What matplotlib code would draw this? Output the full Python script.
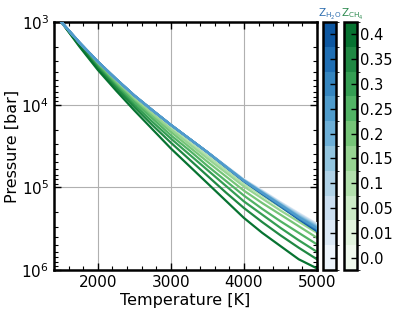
import numpy as np
import matplotlib
matplotlib.use("Agg")
import matplotlib.pyplot as plt
from matplotlib.colors import ListedColormap, BoundaryNorm
from matplotlib.cm import ScalarMappable
from matplotlib.ticker import MultipleLocator, LogLocator, NullFormatter

# Temperature grid [K]
temperature = [1500, 1750, 2000, 2250, 2500, 2750, 3000, 3250, 3500,
               3750, 4000, 4250, 4500, 4750, 5000]

# Metallicity levels (colorbar tick labels)
z_levels = ["0.0", "0.01", "0.05", "0.1", "0.15", "0.2", "0.25", "0.3", "0.35", "0.4"]

# log10(pressure [bar]) for each Z_H2O level
logp_h2o_00 = [3.00, 3.25, 3.48, 3.69, 3.89, 4.07, 4.245, 4.41, 4.575, 4.74, 4.905, 5.04, 5.18, 5.31, 5.44]
logp_h2o_01 = [3.00, 3.25, 3.48, 3.69, 3.89, 4.07, 4.245, 4.41, 4.575, 4.74, 4.905, 5.04, 5.18, 5.315, 5.445]
logp_h2o_05 = [3.00, 3.25, 3.48, 3.69, 3.89, 4.07, 4.245, 4.41, 4.575, 4.74, 4.91, 5.045, 5.185, 5.32, 5.45]
logp_h2o_10 = [3.00, 3.25, 3.48, 3.69, 3.89, 4.07, 4.245, 4.41, 4.575, 4.745, 4.91, 5.05, 5.19, 5.33, 5.46]
logp_h2o_15 = [3.00, 3.25, 3.48, 3.69, 3.89, 4.07, 4.245, 4.41, 4.575, 4.745, 4.915, 5.055, 5.20, 5.34, 5.47]
logp_h2o_20 = [3.00, 3.25, 3.48, 3.69, 3.89, 4.07, 4.245, 4.41, 4.575, 4.745, 4.915, 5.06, 5.205, 5.35, 5.48]
logp_h2o_25 = [3.00, 3.25, 3.48, 3.69, 3.89, 4.07, 4.245, 4.41, 4.575, 4.75, 4.92, 5.065, 5.21, 5.36, 5.495]
logp_h2o_30 = [3.00, 3.25, 3.48, 3.69, 3.89, 4.07, 4.245, 4.41, 4.575, 4.75, 4.92, 5.07, 5.22, 5.37, 5.505]
logp_h2o_35 = [3.00, 3.25, 3.48, 3.69, 3.89, 4.07, 4.245, 4.41, 4.575, 4.75, 4.925, 5.075, 5.225, 5.375, 5.515]
logp_h2o_40 = [3.00, 3.25, 3.48, 3.69, 3.89, 4.07, 4.245, 4.41, 4.575, 4.75, 4.925, 5.08, 5.23, 5.385, 5.53]

# log10(pressure [bar]) for each Z_CH4 level
logp_ch4_00 = [3.00, 3.25, 3.48, 3.69, 3.89, 4.07, 4.245, 4.41, 4.575, 4.74, 4.905, 5.045, 5.185, 5.315, 5.45]
logp_ch4_01 = [3.00, 3.25, 3.485, 3.695, 3.895, 4.075, 4.25, 4.415, 4.58, 4.75, 4.915, 5.055, 5.195, 5.33, 5.46]
logp_ch4_05 = [3.00, 3.25, 3.49, 3.70, 3.90, 4.08, 4.26, 4.43, 4.595, 4.765, 4.93, 5.07, 5.21, 5.345, 5.48]
logp_ch4_10 = [3.00, 3.255, 3.50, 3.71, 3.91, 4.095, 4.28, 4.45, 4.62, 4.79, 4.96, 5.10, 5.24, 5.375, 5.51]
logp_ch4_15 = [3.00, 3.26, 3.51, 3.72, 3.92, 4.11, 4.30, 4.475, 4.65, 4.82, 4.99, 5.135, 5.28, 5.415, 5.55]
logp_ch4_20 = [3.00, 3.265, 3.52, 3.74, 3.95, 4.14, 4.33, 4.51, 4.69, 4.865, 5.04, 5.19, 5.33, 5.47, 5.61]
logp_ch4_25 = [3.00, 3.27, 3.53, 3.76, 3.97, 4.17, 4.37, 4.55, 4.74, 4.92, 5.10, 5.26, 5.41, 5.55, 5.69]
logp_ch4_30 = [3.00, 3.28, 3.545, 3.78, 4.00, 4.21, 4.41, 4.60, 4.79, 4.98, 5.17, 5.33, 5.49, 5.64, 5.78]
logp_ch4_35 = [3.00, 3.29, 3.56, 3.80, 4.03, 4.25, 4.46, 4.66, 4.86, 5.06, 5.25, 5.42, 5.58, 5.73, 5.87]
logp_ch4_40 = [3.00, 3.30, 3.58, 3.83, 4.07, 4.30, 4.53, 4.74, 4.95, 5.16, 5.37, 5.55, 5.71, 5.87, 5.98]

h2o_series = [logp_h2o_00, logp_h2o_01, logp_h2o_05, logp_h2o_10, logp_h2o_15,
              logp_h2o_20, logp_h2o_25, logp_h2o_30, logp_h2o_35, logp_h2o_40]
ch4_series = [logp_ch4_00, logp_ch4_01, logp_ch4_05, logp_ch4_10, logp_ch4_15,
              logp_ch4_20, logp_ch4_25, logp_ch4_30, logp_ch4_35, logp_ch4_40]

n = len(z_levels)
blue_cols = plt.cm.Blues(np.linspace(0.05, 0.85, n))
green_cols = plt.cm.Greens(np.linspace(0.05, 0.85, n))

fig = plt.figure(figsize=(4.0, 3.14), dpi=100)
ax = fig.add_axes([0.135, 0.14, 0.6575, 0.79])

T = np.array(temperature)
for i, lp in enumerate(ch4_series):
    ax.plot(T, 10 ** np.array(lp), color=green_cols[i], lw=1.6, zorder=2)
blue_draw_order = [0, 1, 2, 3, 4, 9, 8, 7, 5, 6]
for k, i in enumerate(blue_draw_order):
    ax.plot(T, 10 ** np.array(h2o_series[i]), color=blue_cols[i], lw=1.6, zorder=3 + 0.01 * k)

ax.set_yscale("log")
ax.set_xlim(1400, 5000)
ax.set_ylim(1e6, 1e3)
ax.xaxis.set_major_locator(MultipleLocator(1000))
ax.xaxis.set_minor_locator(MultipleLocator(200))
ax.yaxis.set_major_locator(LogLocator(base=10, numticks=10))
ax.yaxis.set_minor_locator(LogLocator(base=10, subs=np.arange(2, 10), numticks=10))
ax.yaxis.set_minor_formatter(NullFormatter())
ax.grid(True, which="major", color="#b0b0b0", lw=0.8, zorder=0)
ax.tick_params(which="both", direction="in", top=True, right=True, labelsize=11)
ax.tick_params(which="major", length=5, width=1)
ax.tick_params(which="minor", length=3, width=0.8)
for s in ax.spines.values():
    s.set_linewidth(1.8)
ax.set_xlabel("Temperature [K]", fontsize=11.5, labelpad=2)
ax.set_ylabel("Pressure [bar]", fontsize=11.5, labelpad=1)

bounds = np.arange(n + 1)
norm = BoundaryNorm(bounds, n)
cax1 = fig.add_axes([0.8075, 0.14, 0.0325, 0.79])
cax2 = fig.add_axes([0.86, 0.14, 0.0325, 0.79])
cb1 = fig.colorbar(ScalarMappable(norm=norm, cmap=ListedColormap(blue_cols)), cax=cax1,
                   boundaries=bounds, ticks=np.arange(n) + 0.5)
cb2 = fig.colorbar(ScalarMappable(norm=norm, cmap=ListedColormap(green_cols)), cax=cax2,
                   boundaries=bounds, ticks=np.arange(n) + 0.5)
cb1.set_ticklabels([""] * n)
cb2.set_ticklabels(z_levels)
for cb in (cb1, cb2):
    cb.outline.set_linewidth(1.8)
    cb.ax.tick_params(direction="in", length=4, width=1, labelsize=10.5, pad=2)

fig.text(0.8235, 0.955, r"$\mathrm{Z}_{\mathrm{H_2O}}$", color="#2f6fb0", fontsize=7.5,
         ha="center", va="center")
fig.text(0.8800, 0.955, r"$\mathrm{Z}_{\mathrm{CH_4}}$", color="#2e8b50", fontsize=7.5,
         ha="center", va="center")

fig.savefig("out.png", dpi=100)
